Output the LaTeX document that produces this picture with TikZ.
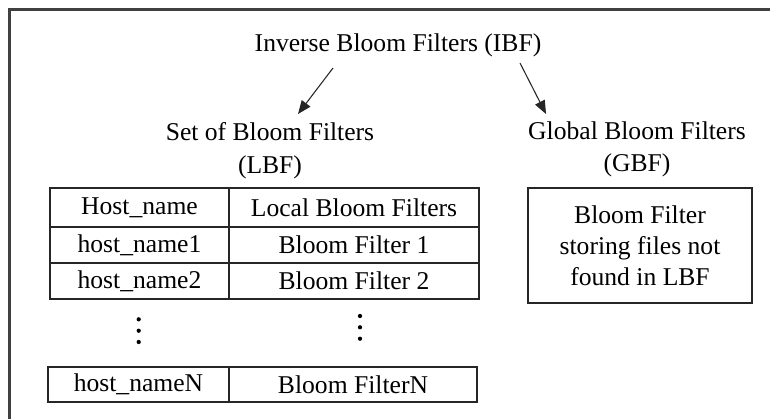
\documentclass[tikz,border=0pt]{standalone}
\usepackage{fontspec}
\setmainfont{Liberation Serif}
\usetikzlibrary{arrows.meta}
\begin{document}
\begin{tikzpicture}[x=0.75pt,y=-0.75pt,
  txt/.style={font=\fontsize{19.2}{24.5}\selectfont, inner sep=0pt, align=center},
  cell/.style={draw=black!85, line width=1.1pt, inner sep=0pt, anchor=center,
    font=\fontsize{19.2}{24.5}\selectfont},
  lcol/.style={cell, minimum width=134.25pt},
  rcol/.style={cell, minimum width=187.5pt},
  arr/.style={-{Triangle[length=10pt,width=8pt]}, line width=0.8pt, black!85},
  dot/.style={fill=black, circle, inner sep=0pt, minimum size=3.2pt}]
\useasboundingbox (0,0) rectangle (770,418);
% outer frame (open to the right and bottom)
\draw[line width=1.6pt, black!75] (9.5,430) -- (9.5,9.5) -- (780,9.5);
% titles
\node[txt] (ibf) at (398,45) {Inverse Bloom Filters (IBF)};
\node[txt, font=\fontsize{19.2}{24.8}\selectfont] (lbf) at (270,151) {Set of Bloom Filters\\(LBF)};
\node[txt, font=\fontsize{19.2}{24.2}\selectfont] (gbf) at (637,149) {Global Bloom Filters\\(GBF)};
% arrows
\coordinate (a1s) at (333,68);
\coordinate (a1e) at (298,114);
\coordinate (a2s) at (520,63);
\coordinate (a2e) at (546,114);
\draw[arr] (a1s) -- (a1e);
\draw[arr] (a2s) -- (a2e);
% table
\node[lcol, minimum height=29.25pt] (h1) at (139.5,207.5) {Host\_name};
\node[rcol, minimum height=29.25pt] (h2) at (354,207.5) {Local Bloom Filters};
\node[lcol, minimum height=27pt] (r11) at (139.5,245) {host\_name1};
\node[rcol, minimum height=27pt] (r12) at (354,245) {Bloom Filter 1};
\node[lcol, minimum height=27pt] (r21) at (139.5,281) {host\_name2};
\node[rcol, minimum height=27pt] (r22) at (354,281) {Bloom Filter 2};
\node[cell, minimum width=135.75pt, minimum height=26.25pt] (rn1) at (138.5,384.5) {host\_nameN};
\node[cell, minimum width=186pt, minimum height=26.25pt] (rn2) at (353,384.5) {Bloom FilterN};
% vertical dots
\node[dot] (dl1) at (138.7,319.3) {};
\node[dot] (dl2) at (138.7,330.7) {};
\node[dot] (dl3) at (138.7,342) {};
\node[dot] (dr1) at (360,316) {};
\node[dot] (dr2) at (360,327.3) {};
\node[dot] (dr3) at (360,338.7) {};
% GBF box
\node[cell, minimum width=168pt, minimum height=86.25pt, align=center,
  font=\fontsize{19.2}{23.3}\selectfont] (gbox) at (640,245.5)
  {Bloom Filter\\storing files not\\found in LBF};
\end{tikzpicture}
\end{document}
